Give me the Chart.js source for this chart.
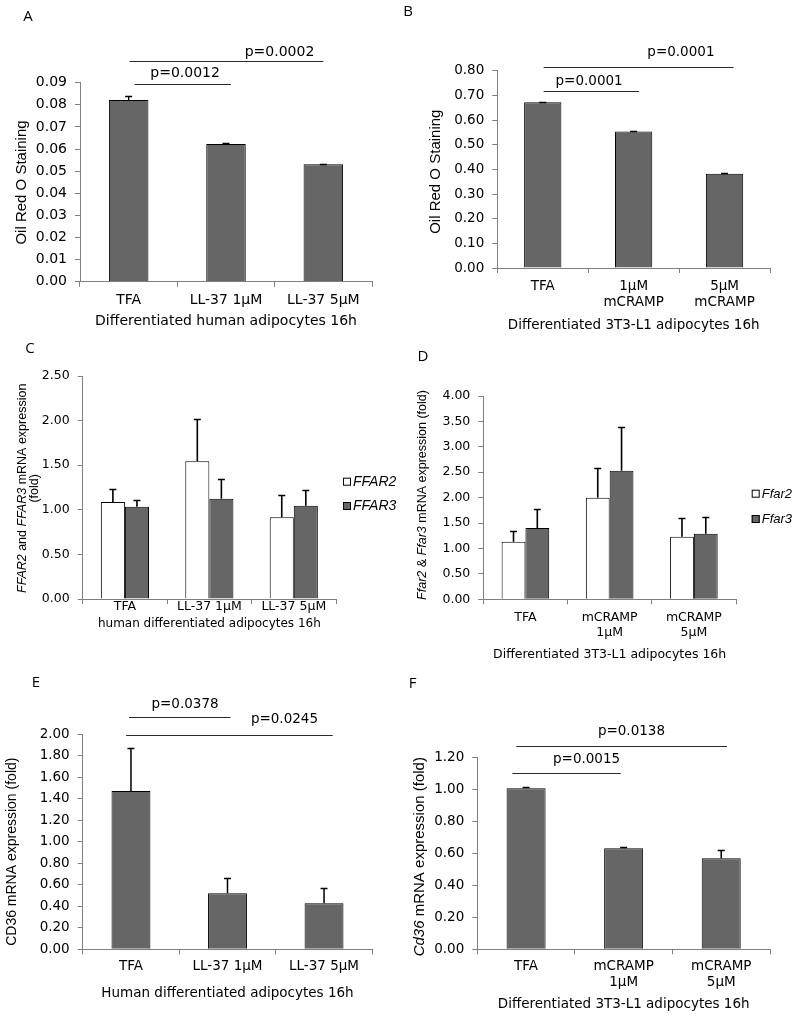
<!DOCTYPE html>
<html>
<head>
<meta charset="utf-8">
<script src="https://cdn.jsdelivr.net/npm/chart.js@4.4.1/dist/chart.umd.min.js"></script>
<style>
  body { margin: 0; background: #fff; }
  #fig { position: relative; width: 800px; height: 1018px; overflow: hidden; }
  #fig canvas { position: absolute; }
</style>
</head>
<body>
<div id="fig">
  <canvas id="chartA"></canvas>
  <canvas id="chartB"></canvas>
  <canvas id="chartC"></canvas>
  <canvas id="chartD"></canvas>
  <canvas id="chartE"></canvas>
  <canvas id="chartF"></canvas>
</div>
<script>
// ---- data ----
const aLabels = ["TFA", "LL-37 1μM", "LL-37 5μM"];
const aValues = [0.0822, 0.0623, 0.0531];
const aErrors = [0.0019, 0.0006, 0.0002];
const aTicks = [0, 0.01, 0.02, 0.03, 0.04, 0.05, 0.06, 0.07, 0.08, 0.09];

const bLabels = ["TFA", ["1μM", "mCRAMP"], ["5μM", "mCRAMP"]];
const bValues = [0.672, 0.553, 0.382];
const bErrors = [0.002, 0.003, 0.004];
const bTicks = [0, 0.1, 0.2, 0.3, 0.4, 0.5, 0.6, 0.7, 0.8];

const cLabels = ["TFA", "LL-37 1μM", "LL-37 5μM"];
const cFfar2 = [1.087, 1.543, 0.916];
const cFfar2Err = [0.15, 0.48, 0.254];
const cFfar3 = [1.035, 1.125, 1.046];
const cFfar3Err = [0.08, 0.225, 0.18];
const cTicks = [0, 0.5, 1, 1.5, 2, 2.5];

const dLabels = ["TFA", ["mCRAMP", "1μM"], ["mCRAMP", "5μM"]];
const dFfar2 = [1.134, 2.0, 1.233];
const dFfar2Err = [0.2, 0.577, 0.36];
const dFfar3 = [1.403, 2.531, 1.292];
const dFfar3Err = [0.374, 0.866, 0.334];
const dTicks = [0, 0.5, 1, 1.5, 2, 2.5, 3, 3.5, 4];

const eLabels = ["TFA", "LL-37 1μM", "LL-37 5μM"];
const eValues = [1.473, 0.521, 0.428];
const eErrors = [0.403, 0.139, 0.139];
const eTicks = [0, 0.2, 0.4, 0.6, 0.8, 1, 1.2, 1.4, 1.6, 1.8, 2];

const fLabels = ["TFA", ["mCRAMP", "1μM"], ["mCRAMP", "5μM"]];
const fValues = [1.008, 0.633, 0.570];
const fErrors = [0.011, 0.01, 0.05];
const fTicks = [0, 0.2, 0.4, 0.6, 0.8, 1, 1.2];

// significance bars: category span, level and label anchor in data units
const aSig = [
  { from: 0.06, to: 1.05, level: 0.0893, text: "p=0.0012", tx: 0.58, ty: 0.0943 },
  { from: 0.01, to: 2.0, level: 0.0999, text: "p=0.0002", tx: 1.55, ty: 0.1036 },
];
const bSig = [
  { from: 0.01, to: 1.06, level: 0.7177, text: "p=0.0001", tx: 0.51, ty: 0.7555 },
  { from: 0.01, to: 2.1, level: 0.8163, text: "p=0.0001", tx: 1.52, ty: 0.873 },
];
const eSig = [
  { from: -0.02, to: 1.03, level: 2.164, text: "p=0.0378", tx: 0.56, ty: 2.273 },
  { from: -0.05, to: 2.09, level: 1.993, text: "p=0.0245", tx: 1.59, ty: 2.14 },
];
const fSig = [
  { from: -0.14, to: 0.97, level: 1.102, text: "p=0.0015", tx: 0.62, ty: 1.19 },
  { from: -0.1, to: 2.06, level: 1.273, text: "p=0.0138", tx: 1.08, ty: 1.361 },
];

// ---- look ----
const INK = "#000";
const AXIS = "#808080";
const GRAY = "#666666";
const SANS = '"DejaVu Sans", sans-serif';
const ARIAL = '"Liberation Sans", Arial, sans-serif';
const TICK = 5;

function drawRuns(ctx, line, cx, cy, size) {
  // "*x*" marks italic pieces
  const runs = line.split("*").map((t, i) => ({ t, i: i % 2 === 1 })).filter(r => r.t);
  const fontOf = r => (r.i ? "italic " : "") + size + "px " + ARIAL;
  let total = 0;
  runs.forEach(r => { ctx.font = fontOf(r); total += ctx.measureText(r.t).width; });
  let x = -total / 2;
  ctx.save();
  ctx.translate(cx, cy);
  ctx.rotate(-Math.PI / 2);
  ctx.textAlign = "left";
  ctx.textBaseline = "middle";
  ctx.fillStyle = INK;
  runs.forEach(r => {
    ctx.font = fontOf(r);
    ctx.fillText(r.t, x, 0);
    x += ctx.measureText(r.t).width;
  });
  ctx.restore();
}

function decor(p) {
  return {
    id: "decor" + p.letter.t,
    afterDatasetsDraw(chart) {
      const ctx = chart.ctx;
      const y = chart.scales.y;
      ctx.save();
      ctx.strokeStyle = "#000";
      ctx.lineWidth = p.errWidth || 1.3;
      chart.data.datasets.forEach((ds, di) => {
        const meta = chart.getDatasetMeta(di);
        meta.data.forEach((bar, i) => {
          const top = Math.round(y.getPixelForValue(ds.data[i] + ds.errorBars[i])) + 0.5;
          ctx.beginPath();
          ctx.moveTo(bar.x, bar.y);
          ctx.lineTo(bar.x, top);
          ctx.moveTo(bar.x - 3.5, top);
          ctx.lineTo(bar.x + 3.5, top);
          ctx.stroke();
        });
      });
      ctx.restore();
    },
    afterDraw(chart) {
      const ctx = chart.ctx;
      const x = chart.scales.x, y = chart.scales.y;
      ctx.save();
      // significance lines
      (p.sig || []).forEach(s => {
        const py = Math.round(y.getPixelForValue(s.level)) + 0.5;
        ctx.strokeStyle = "#2a2a2a";
        ctx.lineWidth = 1.2;
        ctx.beginPath();
        ctx.moveTo(x.getPixelForValue(s.from), py);
        ctx.lineTo(x.getPixelForValue(s.to), py);
        ctx.stroke();
        ctx.fillStyle = INK;
        ctx.font = p.fs + "px " + SANS;
        ctx.textAlign = "center";
        ctx.textBaseline = "middle";
        ctx.fillText(s.text, x.getPixelForValue(s.tx), y.getPixelForValue(s.ty));
      });
      // y title
      p.yTitle.lines.forEach((line, i) => drawRuns(ctx, line, p.yTitle.xs[i], p.yTitle.cy, p.yTitle.size));
      // panel letter
      ctx.fillStyle = INK;
      ctx.font = "15px " + '"Open Sans", sans-serif';
      ctx.textAlign = "center";
      ctx.textBaseline = "middle";
      ctx.fillText(p.letter.t, p.letter.x, p.letter.y);
      // legend
      if (p.legend) {
        chart.data.datasets.forEach((ds, i) => {
          const ly = p.legend.ys[i];
          ctx.fillStyle = ds.backgroundColor;
          ctx.fillRect(p.legend.x, ly - 4, 8, 8);
          ctx.strokeStyle = "#000";
          ctx.lineWidth = 1;
          ctx.strokeRect(p.legend.x + 0.5, ly - 3.5, 7, 7);
          ctx.fillStyle = INK;
          ctx.font = "italic " + p.legend.size + "px " + ARIAL;
          ctx.textAlign = "left";
          ctx.fillText(ds.label, p.legend.x + 10, ly + 0.5);
        });
      }
      ctx.restore();
    },
  };
}

function makePanel(id, p) {
  const canvas = document.getElementById(id);
  canvas.width = 400;
  canvas.height = p.H;
  canvas.style.left = p.left + "px";
  canvas.style.top = p.top + "px";
  const lh = p.fs * 1.2;
  const font = { family: SANS, size: p.fs, lineHeight: 1.2 };
  return new Chart(canvas, {
    type: "bar",
    data: {
      labels: p.labels,
      datasets: p.series.map(s => ({
        label: s.name,
        data: s.values,
        errorBars: s.errors,
        backgroundColor: s.fill,
        borderColor: "#000",
        borderWidth: 1,
        categoryPercentage: p.group,
        barPercentage: 1,
      })),
    },
    options: {
      responsive: false,
      animation: false,
      events: [],
      layout: { padding: { left: 0, top: p.T, right: 400 - p.R, bottom: 0 } },
      plugins: { legend: { display: false }, tooltip: { enabled: false } },
      scales: {
        x: {
          afterFit: s => { s.height = p.H - p.B; },
          border: { display: true, color: AXIS, width: 1 },
          grid: { drawOnChartArea: false, drawTicks: true, tickLength: TICK, color: AXIS, offset: true },
          ticks: { font, color: INK, padding: p.labelGap - TICK - lh / 2, maxRotation: 0, autoSkip: false },
          title: {
            display: true, text: p.xTitle, color: INK,
            font: { family: SANS, size: p.tfs, lineHeight: 1.2 },
            padding: { top: 0, bottom: p.H - p.xTitleY - p.tfs * 0.6 },
          },
        },
        y: {
          min: p.ticks[0],
          max: p.ticks[p.ticks.length - 1],
          afterBuildTicks: s => { s.ticks = p.ticks.map(v => ({ value: v })); },
          afterFit: s => { s.width = p.L; },
          border: { display: true, color: AXIS, width: 1 },
          grid: { drawOnChartArea: false, drawTicks: true, tickLength: TICK, color: AXIS },
          ticks: { font, color: INK, padding: 8, callback: v => v.toFixed(2) },
        },
      },
    },
    plugins: [decor(p)],
  });
}

makePanel("chartA", {
  left: 0, top: 0, H: 340, L: 80, R: 372, T: 82.7, B: 281.7,
  fs: 14, tfs: 14, labelGap: 18.3, xTitleY: 321.7, group: 0.406,
  labels: aLabels, ticks: aTicks,
  series: [{ name: "Oil Red O", values: aValues, errors: aErrors, fill: GRAY }],
  xTitle: "Differentiated human adipocytes 16h",
  yTitle: { lines: ["Oil Red O Staining"], xs: [21.7], cy: 182.5, size: 15 },
  letter: { t: "A", x: 28, y: 16.7 },
  sig: aSig,
});

makePanel("chartB", {
  left: 400, top: 0, H: 340, L: 97.3, R: 370, T: 70.7, B: 268,
  fs: 13.5, tfs: 13.5, labelGap: 18.7, xTitleY: 325, group: 0.41,
  labels: bLabels, ticks: bTicks,
  series: [{ name: "Oil Red O", values: bValues, errors: bErrors, fill: GRAY }],
  xTitle: "Differentiated 3T3-L1 adipocytes 16h",
  yTitle: { lines: ["Oil Red O Staining"], xs: [36], cy: 171.7, size: 15 },
  letter: { t: "B", x: 8, y: 11.7 },
  sig: bSig,
});

makePanel("chartC", {
  left: 0, top: 340, H: 330, L: 82.7, R: 336, T: 36, B: 259,
  fs: 12.5, tfs: 12, labelGap: 7.7, xTitleY: 284, group: 0.57, errWidth: 1.6,
  labels: cLabels, ticks: cTicks,
  series: [
    { name: "FFAR2", values: cFfar2, errors: cFfar2Err, fill: "#ffffff" },
    { name: "FFAR3", values: cFfar3, errors: cFfar3Err, fill: GRAY },
  ],
  xTitle: "human differentiated adipocytes 16h",
  yTitle: { lines: ["*FFAR2* and *FFAR3* mRNA expression", "(fold)"], xs: [22.7, 35], cy: 148.3, size: 12.5 },
  letter: { t: "C", x: 30, y: 8.3 },
  legend: { x: 343, ys: [141.7, 166], size: 14 },
});

makePanel("chartD", {
  left: 400, top: 340, H: 330, L: 83.3, R: 336, T: 56, B: 259.3,
  fs: 12.5, tfs: 12.5, labelGap: 18, xTitleY: 315, group: 0.565, errWidth: 1.6,
  labels: dLabels, ticks: dTicks,
  series: [
    { name: "Ffar2", values: dFfar2, errors: dFfar2Err, fill: "#ffffff" },
    { name: "Ffar3", values: dFfar3, errors: dFfar3Err, fill: GRAY },
  ],
  xTitle: "Differentiated 3T3-L1 adipocytes 16h",
  yTitle: { lines: ["*Ffar2* & *Ffar3* mRNA expression (fold)"], xs: [22.7], cy: 155, size: 12.5 },
  letter: { t: "D", x: 23, y: 16.7 },
  legend: { x: 351.7, ys: [153.7, 179], size: 13 },
});

makePanel("chartE", {
  left: 0, top: 670, H: 348, L: 82.7, R: 372.3, T: 64.3, B: 279.3,
  fs: 13.5, tfs: 13.5, labelGap: 17.4, xTitleY: 323.3, group: 0.403, errWidth: 1.5,
  labels: eLabels, ticks: eTicks,
  series: [{ name: "CD36", values: eValues, errors: eErrors, fill: GRAY }],
  xTitle: "Human differentiated adipocytes 16h",
  yTitle: { lines: ["CD36 mRNA expression (fold)"], xs: [11.7], cy: 181.7, size: 14 },
  letter: { t: "E", x: 36, y: 12.7 },
  sig: eSig,
});

makePanel("chartF", {
  left: 400, top: 670, H: 348, L: 77.3, R: 370, T: 87.7, B: 279.3,
  fs: 13.5, tfs: 13.5, labelGap: 17.4, xTitleY: 334.3, group: 0.40, errWidth: 1.5,
  labels: fLabels, ticks: fTicks,
  series: [{ name: "Cd36", values: fValues, errors: fErrors, fill: GRAY }],
  xTitle: "Differentiated 3T3-L1 adipocytes 16h",
  yTitle: { lines: ["*Cd36* mRNA expression (fold)"], xs: [20], cy: 186.7, size: 15 },
  letter: { t: "F", x: 12.5, y: 13.3 },
  sig: fSig,
});
</script>
</body>
</html>
